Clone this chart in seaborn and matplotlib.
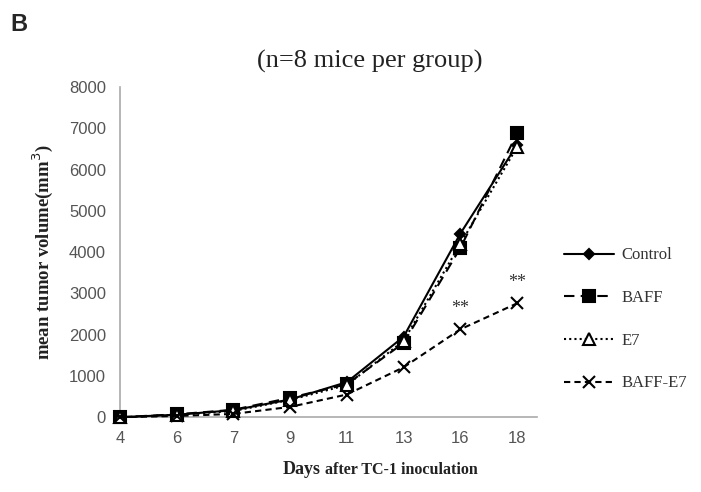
import pandas as pd
import matplotlib.pyplot as plt
import seaborn as sns
import numpy as np

days = ['4', '6', '7', '9', '11', '13', '16', '18']
control = [0, 60, 170, 430, 850, 1950, 4450, 6600]
baff = [0, 70, 180, 470, 800, 1800, 4100, 6880]
e7 = [0, 60, 150, 420, 780, 1850, 4200, 6550]
baff_e7 = [0, 30, 80, 250, 550, 1210, 2130, 2760]
stars_at = ['16', '18']

sns.set_style('white')
plt.rcParams['font.family'] = ['Liberation Sans', 'DejaVu Sans']

df = pd.DataFrame({'pos': np.arange(len(days)), 'Control': control, 'BAFF': baff,
                   'E7': e7, 'BAFF-E7': baff_e7})

fig = plt.figure(figsize=(7.01, 4.92), dpi=100)
ax = fig.add_axes([0.171, 0.152, 0.595, 0.671])

styles = {
    'Control': dict(marker='D', markersize=5, linestyle='-', mfc='black'),
    'BAFF': dict(marker='s', markersize=8, linestyle=(0, (5, 3)), mfc='black'),
    'E7': dict(marker='^', markersize=8, linestyle=(0, (1, 1.5)), mfc='white'),
    'BAFF-E7': dict(marker='x', markersize=9, linestyle=(0, (3, 2)), mfc='black'),
}
for name, st in styles.items():
    sns.lineplot(data=df, x='pos', y=name, ax=ax, color='black', linewidth=1.5,
                 label=name, mec='black', mew=1.5, clip_on=False, zorder=3, **st)

# significance stars
for d in stars_at:
    i = days.index(d)
    ax.text(i, baff_e7[i] + 300, '**', ha='center', va='bottom', fontsize=13,
            family='Liberation Serif', color='#333333')

ax.set_xlim(0, 7.35)
ax.set_ylim(0, 8000)
ax.set_xticks(np.arange(len(days)))
ax.set_xticklabels(days)
ax.set_yticks(range(0, 8001, 1000))
ax.tick_params(axis='both', length=0, labelsize=12, labelcolor='#555555', pad=10)
sns.despine(ax=ax)
for s in ['left', 'bottom']:
    ax.spines[s].set_color('#aaaaaa')
    ax.spines[s].set_linewidth(1.2)

ax.set_xlabel('')
ax.set_ylabel('mean tumor volume(mm$^3$)', family='Liberation Serif', fontsize=13.5,
              fontweight='bold', color='#222222', labelpad=10)
fig.text(0.458, 0.028, 'Days', family='Liberation Serif', fontsize=13, fontweight='bold',
         ha='right', va='bottom', color='#222222')
fig.text(0.463, 0.028, 'after TC-1 inoculation', family='Liberation Serif', fontsize=11.5,
         fontweight='bold', ha='left', va='bottom', color='#222222')

fig.text(0.528, 0.875, '(n=8 mice per group)', family='Liberation Serif', fontsize=19,
         ha='center', va='center', color='#222222')
fig.text(0.015, 0.95, 'B', fontsize=17, fontweight='bold', ha='left', va='center')

leg = ax.legend(loc='upper left', bbox_to_anchor=(1.03, 0.56), frameon=False,
                labelspacing=1.6, handlelength=3.0, handletextpad=0.4,
                prop={'family': 'Liberation Serif', 'size': 12})
for t in leg.get_texts():
    t.set_color('#333333')

fig.savefig('out.png', dpi=100)
